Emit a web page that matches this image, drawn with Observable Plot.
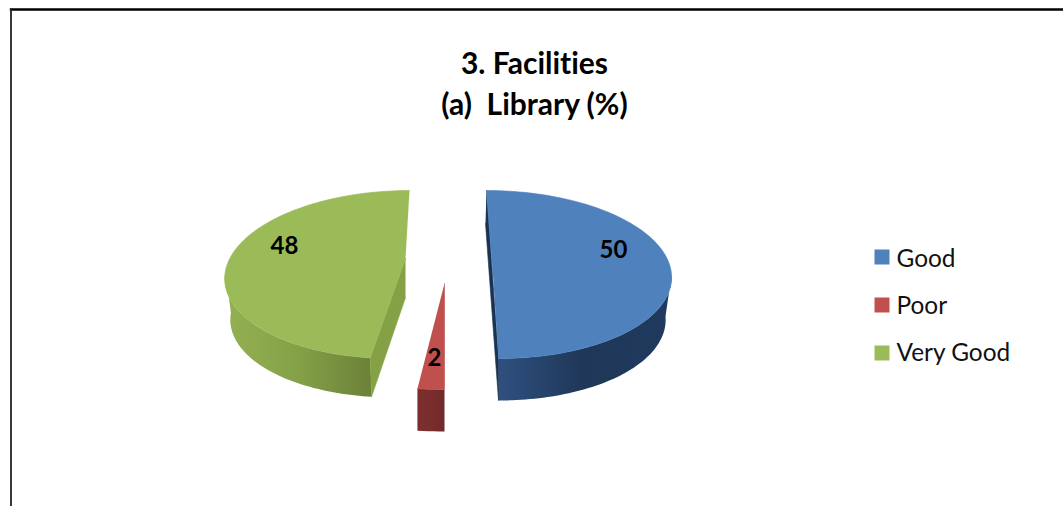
<!DOCTYPE html>
<html>
<head>
<meta charset="utf-8">
<script src="https://cdn.jsdelivr.net/npm/d3@7"></script>
<script src="https://cdn.jsdelivr.net/npm/@observablehq/plot@0.6"></script>
<style>
html, body { margin: 0; padding: 0; background: #fff; overflow: hidden; }
#chart { position: relative; width: 1063px; height: 506px; }
#chart figure { margin: 0; position: relative; max-width: none; }
#chart h2, #chart h3 {
  position: absolute; left: 0; width: 1069px; margin: 0; text-align: center;
  font-family: Lato, "Open Sans", sans-serif; font-weight: 700; font-size: 30px;
  line-height: 40px; color: #000; z-index: 2; white-space: pre;
  font-variant-ligatures: none;
}
#chart h2 { top: 42px; }
#chart h3 { top: 83px; }
</style>
</head>
<body>
<div id="chart"></div>
<script>
// ---- data ----
const categories = ["Good", "Poor", "Very Good"];
const percents = [50, 2, 48];
const titleLine = "3. Facilities";
const subtitleLine = "(a)  Library (%)";

// ---- styling and projection of the tilted, exploded pie ----
const surface = ["#4f81bd", "#c0504d", "#9bbb59"];
const sideStops = [
  ["#2f507f", "#1f3758", "#203a5e"],
  ["#7a2e2d", "#7a2e2d", "#6f2a2a"],
  ["#93b152", "#84a148", "#6b8139"]
];
const wallColor = ["#1b3353", null, "#84a245"];
const tops = [
  {cx: 492, cy: 274, rx: 179, ry: 84, skew: 6, apex: [492.5, 274]},
  {cx: 444, cy: 284, rx: 216, ry: 105, skew: 0, apex: [444, 283]},
  {cx: 400.4, cy: 274, rx: 176, ry: 84, skew: -8.6, apex: [405, 258]}
];
const bottoms = [
  {cx: 491, cy: 316, rx: 174, ry: 84, skew: 7},
  {cx: 444, cy: 326, rx: 216, ry: 105, skew: 0},
  {cx: 401, cy: 315, rx: 171, ry: 82, skew: -8.6}
];
const sideRange = [[90, 180], [180, 187.2], [187.2, 272]];  // the part of each rim in sight
const wallDepth = 39;
const labelAt = [[613, 250], [434, 358], [284, 246]];
const legendY = [256.5, 304.5, 352.5];
const legendTextY = [258.5, 305.5, 353];

// ---- slices derived from the values ----
const rad = d => d * Math.PI / 180;
const pt = (p, a) => [
  p.cx + p.rx * Math.sin(rad(a)) - p.skew * Math.cos(rad(a)),
  p.cy - p.ry * Math.cos(rad(a))
];
const ends = d3.cumsum(percents).map(v => v * 3.6);
const starts = ends.map((e, i) => i ? ends[i - 1] : 0);

const sampleAngles = (a, b) => {
  const n = Math.max(2, Math.ceil(Math.abs(b - a) / 1.5));
  return d3.range(n + 1).map(k => a + (b - a) * k / n);
};

const sideRows = [], wallRows = [], topRows = [];
categories.forEach((c, i) => {
  const a0 = starts[i], a1 = ends[i];
  const [lo, hi] = sideRange[i];
  const color = `url(#side-${i})`;
  const angles = sampleAngles(lo, hi);
  [...angles.map(a => pt(tops[i], a)), ...angles.slice().reverse().map(a => pt(bottoms[i], a))]
    .forEach(([x, y]) => sideRows.push({id: `side-${i}`, x, y, color}));

  let wall = null;
  if (i === 0) {
    const e0 = pt(tops[0], a0), e1 = pt(tops[0], a1), b1 = pt(bottoms[0], a1);
    wall = [e0, e1, b1, [e0[0] - 1, e0[1] + 33]];
  } else if (i === 2) {
    const ap = tops[2].apex;
    wall = [ap, pt(tops[2], a0), pt(bottoms[2], a0), [ap[0], ap[1] + wallDepth]];
  }
  if (wall) wall.forEach(([x, y]) => wallRows.push({id: `wall-${i}`, x, y, color: wallColor[i]}));

  [tops[i].apex, ...sampleAngles(a0, a1).map(a => pt(tops[i], a))]
    .forEach(([x, y]) => topRows.push({id: c, x, y, color: surface[i]}));
});

const labels = categories.map((c, i) => ({text: String(percents[i]), x: labelAt[i][0], y: labelAt[i][1]}));
const legend = categories.map((c, i) => ({text: c, y: legendY[i], ty: legendTextY[i], color: surface[i]}));

const polygons = (rows, stroked) => Plot.line(rows, {
  x: "x", y: "y", z: "id", fill: "color",
  stroke: stroked ? "color" : "none", strokeWidth: stroked ? 0.6 : 0
});

// horizontal shading for the rims
const gradients = () => {
  const ns = "http://www.w3.org/2000/svg";
  const defs = document.createElementNS(ns, "defs");
  sideStops.forEach((stops, i) => {
    const g = document.createElementNS(ns, "linearGradient");
    g.setAttribute("id", `side-${i}`);
    stops.forEach((s, k) => {
      const st = document.createElementNS(ns, "stop");
      st.setAttribute("offset", k / (stops.length - 1));
      st.setAttribute("stop-color", s);
      g.append(st);
    });
    defs.append(g);
  });
  return defs;
};

const chart = Plot.plot({
  width: 1063,
  height: 506,
  marginLeft: 10.5,
  marginTop: 9,
  marginRight: 0,
  marginBottom: 0,
  title: titleLine,
  subtitle: subtitleLine,
  style: {background: "#fff", fontFamily: "Lato, 'Open Sans', sans-serif"},
  x: {domain: [0, 1063], range: [0, 1063], axis: null},
  y: {domain: [0, 506], range: [0, 506], axis: null},
  color: {type: "identity"},
  marks: [
    gradients,
    Plot.frame({anchor: "top", stroke: "#000", strokeWidth: 2.4}),
    Plot.frame({anchor: "left", stroke: "#222", strokeWidth: 1.8}),
    polygons(sideRows, false),
    polygons(wallRows, true),
    polygons(topRows, true),
    Plot.text(labels, {x: "x", y: "y", text: "text", fontSize: 24, fontWeight: 700, fill: "#000", stroke: "none"}),
    Plot.dot(legend, {x: 881.5, y: "y", symbol: "square", r: 8.46, fill: "color", stroke: "none"}),
    Plot.text(legend, {x: 896, y: "ty", text: "text", textAnchor: "start", fontSize: 24.4, fill: "#111", stroke: "none"})
  ]
});
document.getElementById("chart").append(chart);
</script>
</body>
</html>
